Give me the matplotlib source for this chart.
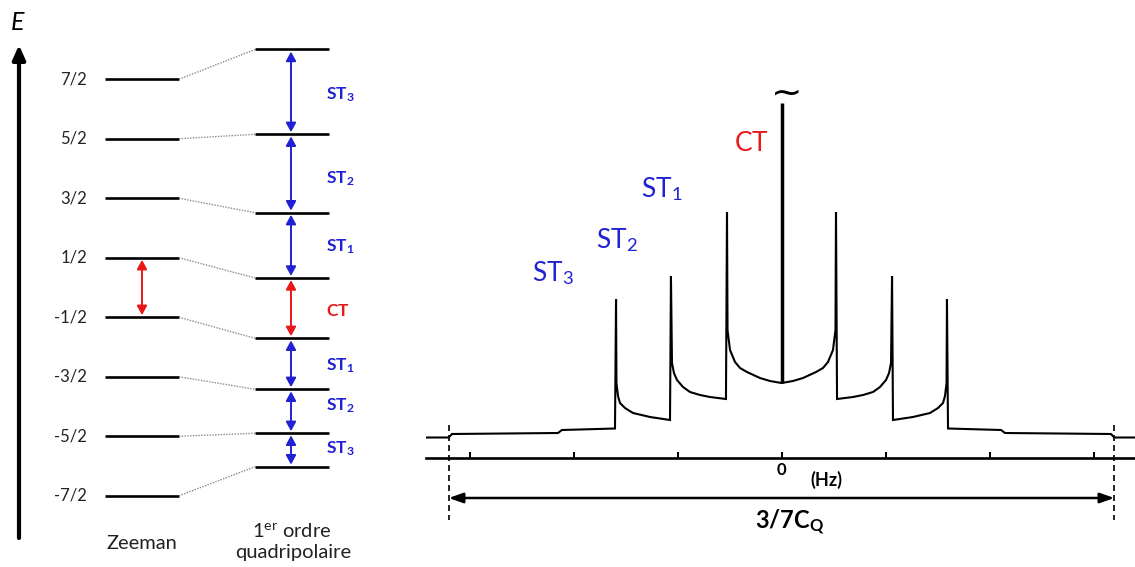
import matplotlib
matplotlib.use('Agg')
import matplotlib.pyplot as plt

plt.rcParams['font.family'] = ['Lato', 'DejaVu Sans']
plt.rcParams['mathtext.fontset'] = 'custom'
plt.rcParams['mathtext.rm'] = 'Lato'
plt.rcParams['mathtext.it'] = 'Lato:italic'
plt.rcParams['mathtext.bf'] = 'Lato:bold'

# ---- energy level diagram (energy in units of the Zeeman spacing)
zeeman_labels = ['7/2', '5/2', '3/2', '1/2', '-1/2', '-3/2', '-5/2', '-7/2']
zeeman_E = [3.5, 2.5, 1.5, 0.5, -0.5, -1.5, -2.5, -3.5]
quad_E = [4.00, 2.575, 1.257, 0.16, -0.854, -1.711, -2.45, -3.012]
trans_names = ['ST3', 'ST2', 'ST1', 'CT', 'ST1', 'ST2', 'ST3']

# ---- first order powder spectrum, left half (frequency, intensity)
spec_f_left = [-3.42, -3.20, -3.168, -2.149, -2.111, -1.601, -1.591, -1.587,
               -1.572, -1.553, -1.505, -1.428, -1.264, -1.072, -1.063, -1.053,
               -1.034, -1.005, -0.947, -0.880, -0.784, -0.688, -0.534, -0.524,
               -0.519, -0.495, -0.447, -0.399, -0.332, -0.207, -0.111, 0.0]
spec_I_left = [0.0, 0.0, 0.35, 0.45, 0.75, 0.9, 13.85, 5.45,
               4.15, 3.45, 2.95, 2.45, 2.05, 1.75, 16.15, 7.45,
               6.45, 5.75, 5.05, 4.55, 4.25, 4.05, 3.85, 22.55,
               10.75, 8.75, 7.55, 6.95, 6.55, 5.95, 5.65, 5.45]
ct_base = 5.45
ct_top = 33.45
freq_ticks = [-3, -2, -1, 0, 1, 2, 3]
freq_ticklabels = ['', '', '', '0', '', '', '']
cq_half = 3.2

blue = '#2020d4'
red = '#e81818'

W, H = 1135, 567
fig = plt.figure(figsize=(W / 100, H / 100), dpi=100, facecolor='white')

# px -> data helpers for the layout of the diagram
def e_of(py):
    return (287.5 - py) / 59.5

ax_l = fig.add_axes([0, 0, 400 / W, 1])
ax_l.set_xlim(0, 400)
ax_l.set_ylim(e_of(H), e_of(0))
ax_l.axis('off')

# E axis
ax_l.annotate('', xy=(19, e_of(45)), xytext=(19, e_of(538)),
              arrowprops=dict(arrowstyle='-|>,head_length=0.85,head_width=0.38',
                              lw=3, color='black', shrinkA=0, shrinkB=0))
ax_l.text(18, e_of(23), 'E', fontsize=18, style='italic', ha='center', va='center')

for lab, ez, eq in zip(zeeman_labels, zeeman_E, quad_E):
    ax_l.plot([105, 179], [ez, ez], color='black', lw=1.9, solid_capstyle='butt')
    ax_l.plot([255, 329], [eq, eq], color='black', lw=1.9, solid_capstyle='butt')
    ax_l.plot([179, 255], [ez, eq], color='#8a8a8a', lw=1.0, ls=(0, (1, 1)))
    ax_l.text(87, ez, lab, fontsize=12, color='#222222', ha='right', va='center')

# red CT arrow on Zeeman levels
ax_l.annotate('', xy=(142, zeeman_E[3]), xytext=(142, zeeman_E[4]),
              arrowprops=dict(arrowstyle='<|-|>,head_length=0.55,head_width=0.3',
                              lw=1.4, color=red, shrinkA=1.5, shrinkB=1.5))

label_E = [e_of(99), e_of(183), e_of(251), e_of(316), e_of(370), e_of(410), e_of(453)]
for i, name in enumerate(trans_names):
    c = red if name == 'CT' else blue
    ax_l.annotate('', xy=(291, quad_E[i]), xytext=(291, quad_E[i + 1]),
                  arrowprops=dict(arrowstyle='<|-|>,head_length=0.55,head_width=0.3',
                                  lw=1.4, color=c, shrinkA=1.5, shrinkB=1.5))
    if name == 'CT':
        s = r'$\mathbf{CT}$'
    else:
        s = r'$\mathbf{ST}_{\mathbf{%s}}$' % name[2]
    ax_l.text(326, label_E[i], s, fontsize=12.5, color=c, ha='left', va='baseline')

ax_l.text(142, e_of(549), 'Zeeman', fontsize=14.5, color='#222222', ha='center', va='baseline')
ax_l.text(292, e_of(537), r'1$^{\mathrm{er}}$ ordre', fontsize=14.5, color='#222222',
          ha='center', va='baseline')
ax_l.text(293, e_of(558), 'quadripolaire', fontsize=14.5, color='#222222',
          ha='center', va='baseline')

# ---- spectrum
def f_of(px):
    return (px - 781.5) / 104.0

def i_of(py):
    return (437.5 - py) / 10.0

ax_s = fig.add_axes([426 / W, 0, (W - 426) / W, 1])
ax_s.set_xlim(f_of(426), f_of(W))
ax_s.set_ylim(i_of(H), i_of(0))
for side in ['top', 'left', 'right']:
    ax_s.spines[side].set_visible(False)
ax_s.spines['bottom'].set_position(('data', i_of(458)))
ax_s.spines['bottom'].set_linewidth(1.9)
ax_s.set_yticks([])
ax_s.set_xticks(freq_ticks)
ax_s.set_xticklabels(freq_ticklabels, fontsize=12, fontweight='bold')
ax_s.tick_params(axis='x', direction='in', length=4.5, width=1.4, pad=3)
ax_s.patch.set_alpha(0)

spec_f = spec_f_left + [-f for f in reversed(spec_f_left[:-1])]
spec_I = spec_I_left + list(reversed(spec_I_left[:-1]))
ax_s.plot(spec_f, spec_I, color='black', lw=1.5, solid_joinstyle='miter')
ax_s.plot([0, 0], [ct_base, ct_top], color='black', lw=2.5, solid_capstyle='butt')
ax_s.text(f_of(787), i_of(94), '~', fontsize=27, family='DejaVu Sans',
          ha='center', va='center')

peak_labels = [r'$\mathrm{ST}_{\mathrm{3}}$', r'$\mathrm{ST}_{\mathrm{2}}$',
               r'$\mathrm{ST}_{\mathrm{1}}$', r'$\mathrm{CT}$']
peak_xy = [(532, 281), (596, 248), (641, 197), (734, 151)]
for s, (px, py) in zip(peak_labels, peak_xy):
    c = red if 'CT' in s else blue
    ax_s.text(f_of(px), i_of(py), s, fontsize=19, color=c, ha='left', va='baseline')

for xf in [-cq_half, cq_half]:
    ax_s.plot([xf, xf], [i_of(425), i_of(520)], color='black', lw=1.2, ls=(0, (3.6, 2.4)))
ax_s.annotate('', xy=(cq_half, i_of(498)), xytext=(-cq_half, i_of(498)),
              arrowprops=dict(arrowstyle='<|-|>,head_length=0.85,head_width=0.3',
                              lw=1.8, color='black', shrinkA=0, shrinkB=0))
ax_s.text(f_of(826), i_of(480), '(Hz)', fontsize=13, fontweight='bold', ha='center', va='center')
ax_s.text(f_of(790), i_of(522), r'$\mathbf{3/7C}_{\mathbf{Q}}$', fontsize=17,
          ha='center', va='center')

fig.savefig('out.png', dpi=100, facecolor='white')
